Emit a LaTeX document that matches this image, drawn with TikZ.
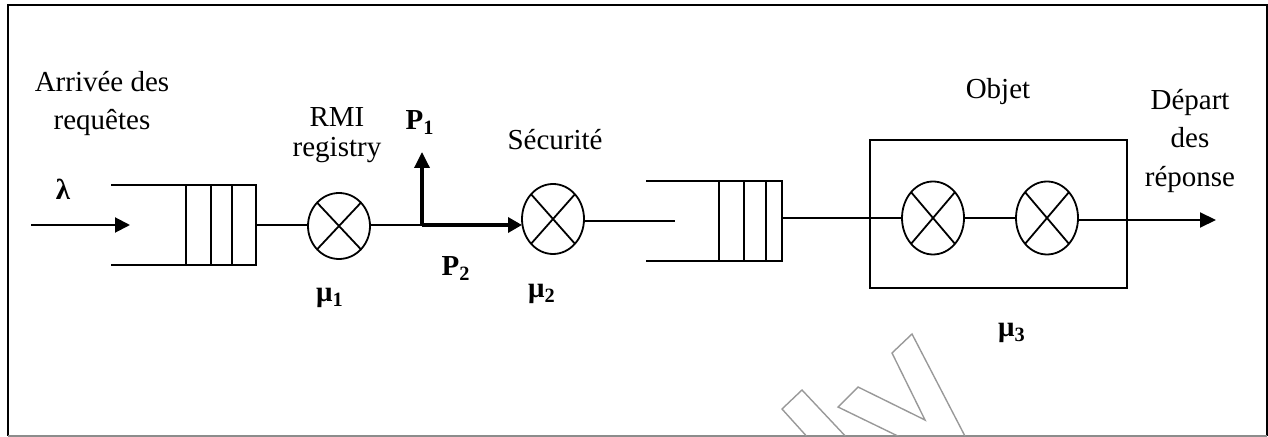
\documentclass[tikz,border=0pt]{standalone}
\usepackage{fontspec}
\setmainfont{Liberation Serif}
\usetikzlibrary{arrows.meta,shapes.geometric}
\begin{document}
\begin{tikzpicture}[x=0.5pt,y=-0.5pt,
  every node/.style={font=\fontsize{14.5}{19}\selectfont, inner sep=0pt, outer sep=0pt},
  lbl/.style={anchor=base},
  blbl/.style={anchor=base,font=\fontsize{14.5}{19}\selectfont\bfseries},
  ln/.style={line width=1pt},
  thk/.style={line width=1.7pt},
  srv/.style={ellipse, draw, line width=0.9pt, minimum width=31pt, minimum height=#1,
    path picture={\draw[line width=0.9pt] (path picture bounding box.north west) -- (path picture bounding box.south east)
      (path picture bounding box.south west) -- (path picture bounding box.north east);}},
  queue/.style={draw, line width=1pt, minimum width=#1, minimum height=40pt},
  wm/.style={draw=black!40, line width=0.7pt, line join=miter}
]
\useasboundingbox (0,0) rectangle (1268,437);
% frame
\draw[line width=1pt] (8,436) -- (8,5) -- (1267,5) -- (1267,436);
\draw[black!45, line width=0.8pt] (8,436) -- (1267,436);
% watermark
\begin{scope}
\clip (9,6) rectangle (1266,435.5);
\draw[wm] (810,440) -- (782,409) -- (802,390) -- (849,440);
\draw[wm] (906,440) -- (838,407) -- (858,387) -- (925,420) -- (892,353) -- (912,334) -- (967,440);
\end{scope}

% queue 1
\node[queue=35pt] (q1) at (221,225) {};
\draw[ln] ([xshift=12.5pt]q1.north west) -- ([xshift=12.5pt]q1.south west);
\draw[ln] ([xshift=23pt]q1.north west) -- ([xshift=23pt]q1.south west);
\draw[ln] (q1.north west) -- ++(-75,0);
\draw[ln] (q1.south west) -- ++(-75,0);

% queue 2
\node[queue=31.5pt] (q2) at (750.5,221.5) {};
\draw[ln] ([xshift=12.5pt]q2.north west) -- ([xshift=12.5pt]q2.south west);
\draw[ln] ([xshift=23.5pt]q2.north west) -- ([xshift=23.5pt]q2.south west);
\draw[ln] (q2.north west) -- ++(-73,0);
\draw[ln] (q2.south west) -- ++(-73,0);

% servers
\node[srv=33pt] (s1) at (339,226) {};
\node[srv=35pt] (s2) at (553,219) {};
\node[draw, line width=1pt, minimum width=128.5pt, minimum height=74pt] (obj) at (998.5,214) {};
\node[srv=36.5pt] (s3) at (933,218) {};
\node[srv=36.5pt] (s4) at (1047,218) {};

% coordinates
\coordinate (in) at (31,225);
\coordinate (inend) at (130,225);
\coordinate (j) at (422,225);
\coordinate (p1tip) at (422,152);
\coordinate (q2in) at (675,221);
\coordinate (out) at (1216,220);

% connectors
\draw[ln, -{Triangle[length=7.5pt,width=7.5pt]}] (in) -- (inend);
\draw[ln] (q1.east) -- (s1.west |- q1.east);
\draw[ln] (s1.east |- j) -- (j);
\draw[thk, -{Triangle[length=8pt,width=7.5pt]}] ([yshift=0.4pt]j) -- (p1tip);
\draw[thk, -{Triangle[length=7pt,width=7.5pt]}] (j) -- (s2.west |- j);
\draw[ln] (s2.east |- q2in) -- (q2in);
\draw[ln] (q2.east |- s3.west) -- (s3.west);
\draw[ln] (s3.east) -- (s4.west);
\draw[ln, -{Triangle[length=8pt,width=7.5pt]}] (s4.east |- out) -- (out);

% labels
\node[lbl] (a1) at (102,92) {Arrivée des};
\node[lbl] (a2) at (102,130) {requêtes};
\node[blbl] (lam) at (63,200) {λ};
\node[lbl] (rmi) at (337,127) {RMI};
\node[lbl] (reg) at (337,157) {registry};
\node[blbl] (p1) at (420,130) {P\textsubscript{1}};
\node[blbl] (p2) at (456,276) {P\textsubscript{2}};
\node[lbl] (sec) at (555,150) {Sécurité};
\node[blbl] (m1) at (330,302) {μ\textsubscript{1}};
\node[blbl] (m2) at (542,298) {μ\textsubscript{2}};
\node[blbl] (m3) at (1012,337) {μ\textsubscript{3}};
\node[lbl] (objt) at (998,99) {Objet};
\node[lbl] (d1) at (1190,110) {Départ};
\node[lbl] (d2) at (1190,148) {des};
\node[lbl] (d3) at (1190,187) {réponse};
\end{tikzpicture}
\end{document}
